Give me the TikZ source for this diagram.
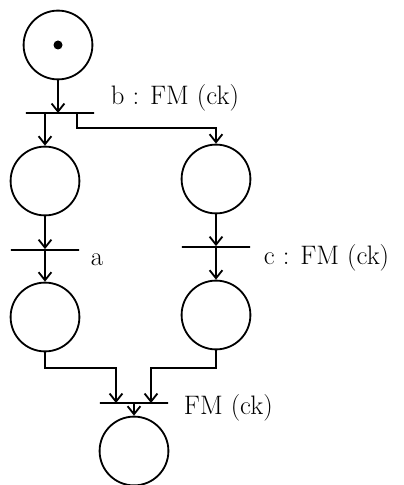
\documentclass[tikz,border=0pt]{standalone}
\usepackage{tikz}
\usetikzlibrary{arrows.meta}

\begin{document}
\begin{tikzpicture}[x=0.025cm, y=-0.025cm, line width=1.3pt,
    place/.style={draw, circle, minimum size=1.72cm, inner sep=0pt},
    trans/.style={draw, rectangle, minimum width=1.7cm, minimum height=0pt, inner sep=0pt},
    arc/.style={-{Straight Barb[length=2mm, width=3.2mm]}},
    lbl/.style={anchor=west, inner sep=0pt, font=\fontsize{19}{22}\selectfont}]
    \useasboundingbox (0,0) rectangle (403,485);
    % places
    \node[place] (p0) at (58,45) {};
    \node[place] (p1) at (45,181) {};
    \node[place] (p2) at (216,179) {};
    \node[place] (p3) at (45,317) {};
    \node[place] (p4) at (216,315) {};
    \node[place] (p5) at (134,451) {};
    \fill (p0) circle (4.5);
    % transitions
    \node[trans] (t1) at (60,113) {};
    \node[trans] (ta) at (45,250) {};
    \node[trans] (tc) at (216,247) {};
    \node[trans] (t2) at (134,403) {};
    \coordinate (t1r) at (77,113);
    \coordinate (m1) at (77,128);
    \coordinate (t2l) at (116,403);
    \coordinate (t2r) at (151,403);
    \coordinate (m3) at (45,368);
    \coordinate (m4) at (216,368);
    % labels
    \node[lbl] (lb) at (110,98) {b : FM (ck)};
    \node[lbl] (la) at (90,260) {a};
    \node[lbl] (lc) at (263,258) {c : FM (ck)};
    \node[lbl] (lf) at (183,408) {FM (ck)};
    % arcs
    \draw[arc] (p0) -- (p0 |- t1);
    \draw[arc] (p1 |- t1) -- (p1);
    \draw[arc] (t1r) -- (m1) -| (p2);
    \draw[arc] (p1) -- (ta);
    \draw[arc] (ta) -- (p3);
    \draw[arc] (p2) -- (tc);
    \draw[arc] (tc) -- (p4);
    \draw[arc] (p3) -- (m3) -| (t2l);
    \draw[arc] (p4) -- (m4) -| (t2r);
    \draw[arc] (t2) -- (p5);
\end{tikzpicture}
\end{document}
